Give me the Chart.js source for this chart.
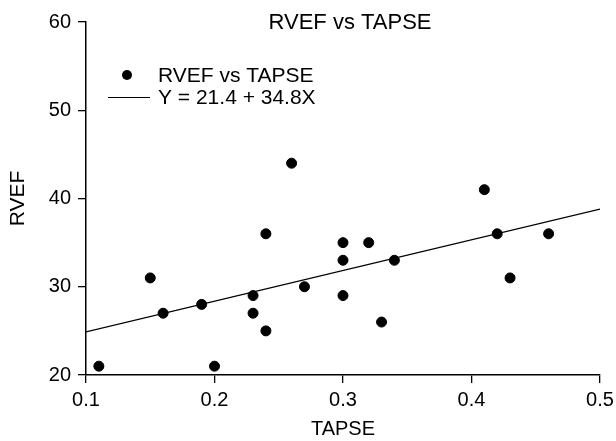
<!DOCTYPE html>
<html>
<head>
<meta charset="utf-8">
<script src="https://cdn.jsdelivr.net/npm/chart.js@4.4.1/dist/chart.umd.min.js"></script>
<style>
  html, body { margin: 0; padding: 0; background: #fff; }
  #wrap { width: 616px; height: 441px; }
</style>
</head>
<body>
<div id="wrap"><canvas id="myScatter" width="616" height="441"></canvas></div>
<script>
// datos
const tapse = [0.11, 0.15, 0.16, 0.19, 0.20, 0.23, 0.23, 0.24, 0.24, 0.26, 0.27, 0.30, 0.30, 0.30, 0.32, 0.33, 0.34, 0.41, 0.42, 0.43, 0.46];
const rvef  = [21,   31,   27,   28,   21,   29,   27,   36,   25,   44,   30,   35,   33,   29,   35,   26,   33,   41,   36,   31,   36];
const fitX = [0.1, 0.5];
const intercept = 21.4;
const slope = 34.8;
const xTicks = [0.1, 0.2, 0.3, 0.4, 0.5];
const yTicks = [20, 30, 40, 50, 60];
const chartTitle = 'RVEF vs TAPSE';
const seriesLabel = 'RVEF vs TAPSE';
const fitLabel = 'Y = 21.4 + 34.8X';

const FONT = 'Arial, "Liberation Sans", sans-serif';

const points = tapse.map((x, i) => ({ x: x, y: rvef[i] }));
const fitLine = fitX.map(x => ({ x: x, y: intercept + slope * x }));

// titulo y leyenda dentro del area del grafico
const overlay = {
    id: 'overlay',
    afterDraw(chart) {
        const ctx = chart.ctx;
        ctx.save();
        ctx.fillStyle = '#000';
        ctx.strokeStyle = '#000';
        ctx.textBaseline = 'middle';
        ctx.textAlign = 'center';
        ctx.font = '22px ' + FONT;
        ctx.fillText(chartTitle, 350, 23);

        ctx.font = '21px ' + FONT;
        ctx.textAlign = 'left';
        ctx.beginPath();
        ctx.arc(127, 75, 5, 0, Math.PI * 2);
        ctx.fill();
        ctx.fillText(seriesLabel, 158, 76);

        ctx.lineWidth = 1;
        ctx.beginPath();
        ctx.moveTo(108, 97.5);
        ctx.lineTo(150, 97.5);
        ctx.stroke();
        ctx.fillText(fitLabel, 158, 98);
        ctx.restore();
    }
};

const config = {
    type: 'scatter',
    data: {
        datasets: [{
            label: seriesLabel,
            data: points,
            backgroundColor: '#000',
            borderColor: '#000',
            pointRadius: 5,
            pointHoverRadius: 5,
            clip: false
        }, {
            type: 'line',
            label: fitLabel,
            data: fitLine,
            borderColor: '#000',
            borderWidth: 1.2,
            pointRadius: 0,
            fill: false
        }]
    },
    plugins: [overlay],
    options: {
        responsive: false,
        animation: false,
        layout: { padding: { top: 22, right: 16, left: 6, bottom: 0 } },
        plugins: {
            legend: { display: false },
            title: { display: false },
            tooltip: { enabled: false }
        },
        scales: {
            x: {
                type: 'linear',
                min: 0.1,
                max: 0.5,
                afterBuildTicks: s => { s.ticks = xTicks.map(v => ({ value: v })); },
                afterFit: s => { s.height = 441 - 375; s.paddingLeft = 0; s.paddingRight = 0; },
                ticks: {
                    color: '#000',
                    font: { family: FONT, size: 20 },
                    padding: 5,
                    maxRotation: 0,
                    callback: v => v.toFixed(1)
                },
                grid: { drawOnChartArea: false, drawTicks: true, tickLength: 8, color: '#000', lineWidth: 1.3 },
                border: { display: true, color: '#000', width: 1.5 },
                title: {
                    display: true,
                    text: 'TAPSE',
                    color: '#000',
                    font: { family: FONT, size: 20 },
                    padding: { top: 0, bottom: 0 }
                }
            },
            y: {
                type: 'linear',
                min: 20,
                max: 60,
                afterBuildTicks: s => { s.ticks = yTicks.map(v => ({ value: v })); },
                afterFit: s => { s.width = 80; s.paddingTop = 0; s.paddingBottom = 0; },
                ticks: {
                    color: '#000',
                    font: { family: FONT, size: 20 },
                    padding: 7
                },
                grid: { drawOnChartArea: false, drawTicks: true, tickLength: 8, color: '#000', lineWidth: 1.3 },
                border: { display: true, color: '#000', width: 1.5 },
                title: {
                    display: true,
                    text: 'RVEF',
                    color: '#000',
                    font: { family: FONT, size: 21 },
                    padding: { top: 0, bottom: 0 }
                }
            }
        }
    }
};

new Chart(document.getElementById('myScatter'), config);
</script>
</body>
</html>
